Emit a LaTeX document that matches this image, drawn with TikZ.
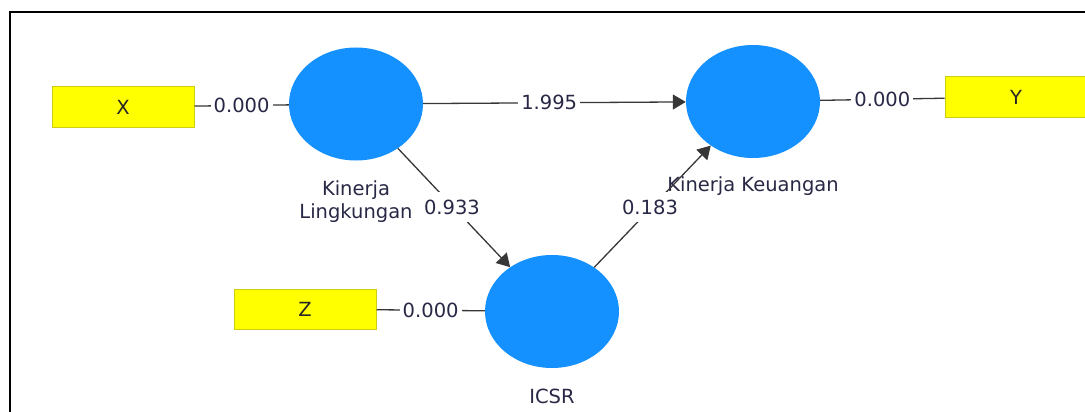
\documentclass[tikz,border=0pt]{standalone}
\usepackage{fontspec}
\setmainfont{DejaVu Sans}
\usetikzlibrary{shapes.geometric,arrows.meta}
\definecolor{lvblue}{RGB}{20,144,255}
\definecolor{ind}{RGB}{255,255,0}
\definecolor{indborder}{RGB}{205,205,20}
\definecolor{lbl}{RGB}{40,40,70}
\definecolor{lnk}{RGB}{55,55,55}
\tikzset{
  latent/.style={ellipse, fill=lvblue, draw=none, minimum width=134pt, minimum height=113pt, inner sep=0pt},
  indbox/.style={rectangle, fill=ind, draw=indborder, line width=1pt, minimum width=142pt, minimum height=40pt, inner sep=0pt, text=black!85},
  lvname/.style={text=lbl, align=center, inner sep=0pt},
  coef/.style={fill=white, text=lbl, inner xsep=3pt, inner ysep=1pt},
  dcoef/.style={fill=white, text=lbl, inner xsep=3pt, inner ysep=8pt},
  link/.style={draw=lnk, line width=1.3pt},
  path/.style={draw=lnk, line width=1.3pt, -{Triangle[length=13pt,width=15pt]}},
  every node/.style={font=\fontsize{19.5}{23}\selectfont},
}
\begin{document}
\begin{tikzpicture}[x=1pt,y=-1pt]
\useasboundingbox (0,0) rectangle (1085,412);
\draw[line width=1.6pt] (10,413) -- (10,12) -- (1086,12);

\node[latent] (kl) at (356,104) {};
\node[latent] (kk) at (753,101.5) {};
\node[latent] (icsr) at (552,311.5) {};

\node[lvname] (kllab) at (356,202) {Kinerja\\Lingkungan};
\node[lvname] (kklab) at (753,186) {Kinerja Keuangan};
\node[lvname] (icsrlab) at (552,396) {ICSR};

\node[indbox] (x) at (123,107) {X};
\node[indbox] (z) at (305,309) {Z};
\node[indbox] (y) at (1016,97) {Y};

\draw[link] (x) -- node[coef] {0.000} (kl);
\draw[link] (z) -- node[coef] {0.000} (icsr);
\draw[link] (kk) -- node[coef] {0.000} (y);

\draw[path] (kl) -- node[coef, pos=0.48] {1.995} (kk);
\draw[path] (kl) -- (icsr);
\node[dcoef] (c1) at (452,207) {0.933};
\draw[path] (icsr) -- (kk);
\node[dcoef] (c2) at (650,207) {0.183};
\end{tikzpicture}
\end{document}
